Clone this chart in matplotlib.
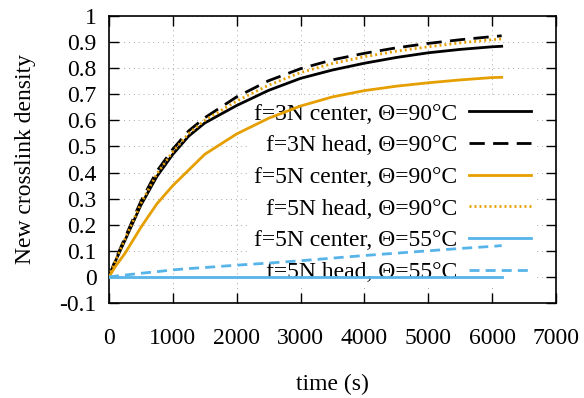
import matplotlib
matplotlib.use("Agg")
import matplotlib.pyplot as plt

plt.rcParams['font.family'] = ['Liberation Serif', 'DejaVu Serif']

# time points (s) and curves
t = [0, 100, 250, 500, 750, 1000, 1250, 1500, 2000, 2500, 3000, 3500, 4000, 4500, 5000, 5500, 6000, 6150]
f3_center_90 = [0.0, 0.06, 0.14, 0.275, 0.385, 0.47, 0.54, 0.59, 0.657, 0.715, 0.761, 0.793, 0.819,
                0.841, 0.859, 0.872, 0.882, 0.884]
f3_head_90 = [0.0, 0.065, 0.15, 0.29, 0.405, 0.49, 0.56, 0.61, 0.69, 0.752, 0.798, 0.832, 0.857,
              0.878, 0.895, 0.909, 0.921, 0.924]
f5_center_90 = [0.0, 0.04, 0.09, 0.19, 0.28, 0.35, 0.41, 0.47, 0.548, 0.608, 0.655, 0.69, 0.714,
                0.731, 0.744, 0.755, 0.764, 0.765]
f5_head_90 = [0.0, 0.062, 0.145, 0.282, 0.395, 0.48, 0.55, 0.6, 0.674, 0.735, 0.783, 0.818, 0.844,
              0.865, 0.882, 0.897, 0.909, 0.912]
f5_center_55 = [0.0] * len(t)
f5_head_55 = [0.0, 0.003, 0.007, 0.014, 0.02, 0.027, 0.032, 0.036, 0.045, 0.053, 0.062, 0.072, 0.082,
              0.091, 0.1, 0.109, 0.117, 0.12]

labels = ['f=3N center, Θ=90°C', 'f=3N head, Θ=90°C', 'f=5N center, Θ=90°C',
          'f=5N head, Θ=90°C', 'f=5N center, Θ=55°C', 'f=5N head, Θ=55°C']

orange = '#E69F00'
blue = '#56B4E9'

fig = plt.figure(figsize=(5.84, 3.98), dpi=100)
ax = fig.add_axes([0.1866, 0.2387, 0.7654, 0.7211])

lw = 2.0
ax.plot(t, f3_center_90, color='black', lw=lw, zorder=3, label=labels[0])
ax.plot(t, f3_head_90, color='black', lw=lw, dashes=(5.5, 3), zorder=3, label=labels[1])
ax.plot(t, f5_center_90, color=orange, lw=lw, zorder=3, label=labels[2])
ax.plot(t, f5_head_90, color=orange, lw=lw, dashes=(0.7, 1.1), zorder=3, label=labels[3])
ax.plot(t, f5_center_55, color=blue, lw=lw, zorder=3, label=labels[4])
ax.plot(t, f5_head_55, color=blue, lw=lw, dashes=(3.6, 2.2), zorder=3, label=labels[5])

ax.set_xlim(0, 7000)
ax.set_ylim(-0.1, 1.0)
ax.set_xticks(range(0, 7001, 1000))
ax.set_yticks([i / 10 for i in range(-1, 11)])
ax.set_yticklabels(['-0.1', '0', '0.1', '0.2', '0.3', '0.4', '0.5', '0.6', '0.7', '0.8', '0.9', '1'])

ax.grid(True, color='#a8a8a8', linestyle=(0, (1, 4)), lw=0.7, zorder=0)
ax.tick_params(direction='in', length=7, width=1, top=True, right=True, labelsize=17)
ax.tick_params(axis='x', pad=18)
ax.tick_params(axis='y', pad=9)
for s in ax.spines.values():
    s.set_linewidth(1.2)

ax.set_xlabel('time (s)', fontsize=17, labelpad=18)
ax.set_ylabel('New crosslink density', fontsize=17, labelpad=17)

leg = ax.legend(loc='lower right', bbox_to_anchor=(0.98, 0.012), markerfirst=False, frameon=True,
                fontsize=17, handlelength=2.6, labelspacing=0.43, borderpad=0.2,
                handletextpad=0.5, fancybox=False)
leg.get_frame().set_facecolor('white')
leg.get_frame().set_edgecolor('none')
leg.get_frame().set_alpha(1)
leg.set_zorder(2)
for txt in leg.get_texts():
    txt.set_ha('right')

fig.savefig('out.png', dpi=100)
